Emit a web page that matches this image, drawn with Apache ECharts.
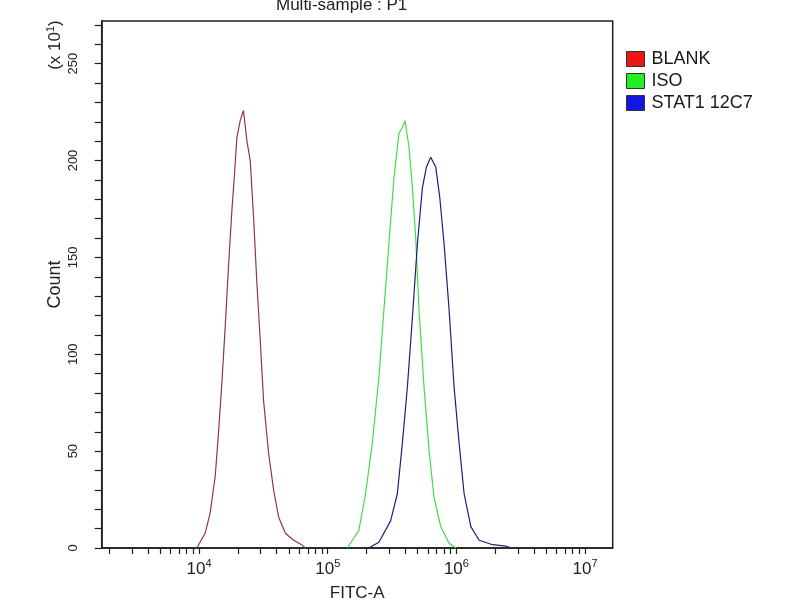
<!DOCTYPE html>
<html>
<head>
<meta charset="utf-8">
<script src="https://cdn.jsdelivr.net/npm/echarts@6/dist/echarts.min.js"></script>
<style>
html,body{margin:0;padding:0;background:#fff;}
#chart{width:800px;height:600px;}
</style>
</head>
<body>
<div id="chart"></div>
<script>
// ---- data (FITC-A fluorescence, Count in units of x10^1) ----
const seriesNames = ['BLANK', 'ISO', 'STAT1 12C7'];
const blankX = [9600, 11140, 12180, 13330, 14140, 15030, 15950, 16920, 17980, 18850, 19670, 20870, 22140, 23540, 24970, 26500, 28170, 29890, 31710, 34690, 37950, 41510, 46810, 54330, 63170, 67040];
const blankY = [0, 7.6, 18, 36.8, 59, 85, 114, 145, 174, 193, 212, 220.6, 225.8, 210, 200, 171, 136, 107, 76, 49, 30, 16, 7.6, 4, 1.5, 0];
const isoX = [141700, 174400, 196700, 221900, 249700, 273300, 298900, 326900, 357600, 380100, 398300, 427900, 454900, 482700, 512100, 560200, 612800, 670300, 755800, 877400, 989300];
const isoY = [0, 9, 28, 54, 88, 123, 157, 191, 214, 217, 220.6, 207, 186, 160, 123, 83, 50.5, 26, 11, 2.4, 0];
const statX = [208700, 249700, 308100, 347500, 380100, 415800, 454900, 497600, 544300, 584800, 631700, 691000, 742300, 802000, 877400, 959600, 1050000, 1148000, 1295000, 1503000, 1911000, 2427000, 2655000];
const statY = [0, 3, 14, 28, 54, 83, 119, 157, 186, 196.6, 201.7, 196.6, 181, 157, 123, 83, 54, 28, 11, 4, 1.7, 1, 0];

const xMajorTicks = [1e4, 1e5, 1e6, 1e7];
const xMinorMult = [2, 3, 4, 5, 6, 7, 8, 9];
const yTickValues = [0, 10, 20, 30, 40, 50, 60, 70, 80, 90, 100, 110, 120, 130, 140, 150, 160, 170, 180, 190, 200, 210, 220, 230, 240, 250, 260, 270];
const yLabelValues = [0, 50, 100, 150, 200, 250];

// ---- build ----
function zip(xs, ys) { return xs.map((x, i) => [x, ys[i]]); }
const xTickValues = [];
[1e3, 1e4, 1e5, 1e6, 1e7].forEach(d => {
  if (d >= 1e4) xTickValues.push(d);
  if (d < 1e7) xMinorMult.forEach(m => xTickValues.push(m * d));
});

const lineColors = ['#913838', '#45dc45', '#1e1e78'];
const swatchColors = ['#ee1515', '#25ee25', '#1515e0'];
const FONT = 'Liberation Sans, Arial, sans-serif';
const AX = '#1e1e1e';

const chart = echarts.init(document.getElementById('chart'), null, {renderer: 'canvas'});
chart.setOption({
  animation: false,
  backgroundColor: '#fff',
  title: {
    text: 'Multi-sample : P1',
    left: 276, top: -3, padding: 0,
    textStyle: {fontFamily: FONT, fontSize: 17, fontWeight: 'normal', color: '#222'}
  },
  legend: {
    orient: 'vertical', left: 626, top: 50, padding: 0,
    itemWidth: 18, itemHeight: 15, itemGap: 4,
    selectedMode: false,
    textStyle: {fontFamily: FONT, fontSize: 18, color: '#1a1a1a', padding: [0, 0, 0, 2]},
    data: seriesNames.map((n, i) => ({
      name: n, icon: 'rect',
      itemStyle: {color: swatchColors[i], borderColor: '#333', borderWidth: 1}
    }))
  },
  graphic: [{
    type: 'text',
    x: 55, y: 45, rotation: Math.PI / 2,
    style: {
      text: '{a|(x 10}{s|1}{a|)}',
      align: 'center', verticalAlign: 'middle',
      rich: {
        a: {fontFamily: FONT, fontSize: 17, fill: '#222', lineHeight: 20},
        s: {fontFamily: FONT, fontSize: 11, fill: '#222', verticalAlign: 'top', lineHeight: 20}
      }
    }
  }],
  grid: {
    left: 101.7, right: 187.3, top: 21, bottom: 52,
    outerBoundsMode: 'none', containLabel: false,
    show: true, borderColor: AX, borderWidth: 1.5, backgroundColor: '#fff'
  },
  xAxis: {
    type: 'log', min: 1750, max: 1.64e7,
    name: 'FITC-A', nameLocation: 'middle', nameGap: 37, nameMoveOverlap: false,
    nameTextStyle: {fontFamily: FONT, fontSize: 17, color: '#222'},
    axisLine: {show: true, lineStyle: {color: AX, width: 1.5}},
    axisTick: {show: true, length: 6, customValues: xTickValues, lineStyle: {color: AX, width: 1.2}},
    minorTick: {show: false},
    splitLine: {show: false},
    axisLabel: {
      customValues: xMajorTicks, margin: 10,
      formatter: function (v) { return '{b|10}{s|' + Math.round(Math.log10(v)) + '}'; },
      rich: {
        b: {fontFamily: FONT, fontSize: 17, color: '#222', lineHeight: 22},
        s: {fontFamily: FONT, fontSize: 11, color: '#222', verticalAlign: 'top', lineHeight: 22}
      }
    }
  },
  yAxis: {
    type: 'value', min: 0, max: 272,
    name: 'Count', nameLocation: 'middle', nameGap: 38, nameMoveOverlap: false,
    nameTextStyle: {fontFamily: FONT, fontSize: 18, color: '#222'},
    axisLine: {show: true, lineStyle: {color: AX, width: 1.5}},
    axisTick: {show: true, length: 7, customValues: yTickValues, lineStyle: {color: AX, width: 1.2}},
    splitLine: {show: false},
    axisLabel: {
      customValues: yLabelValues, rotate: 90, margin: 22,
      fontFamily: FONT, fontSize: 13, color: '#222'
    }
  },
  series: [
    {name: seriesNames[0], data: zip(blankX, blankY)},
    {name: seriesNames[1], data: zip(isoX, isoY)},
    {name: seriesNames[2], data: zip(statX, statY)}
  ].map((s, i) => Object.assign(s, {
    type: 'line', showSymbol: false, symbol: 'none',
    lineStyle: {color: lineColors[i], width: 1.2},
    itemStyle: {color: lineColors[i]},
    z: 3
  }))
});
</script>
</body>
</html>
